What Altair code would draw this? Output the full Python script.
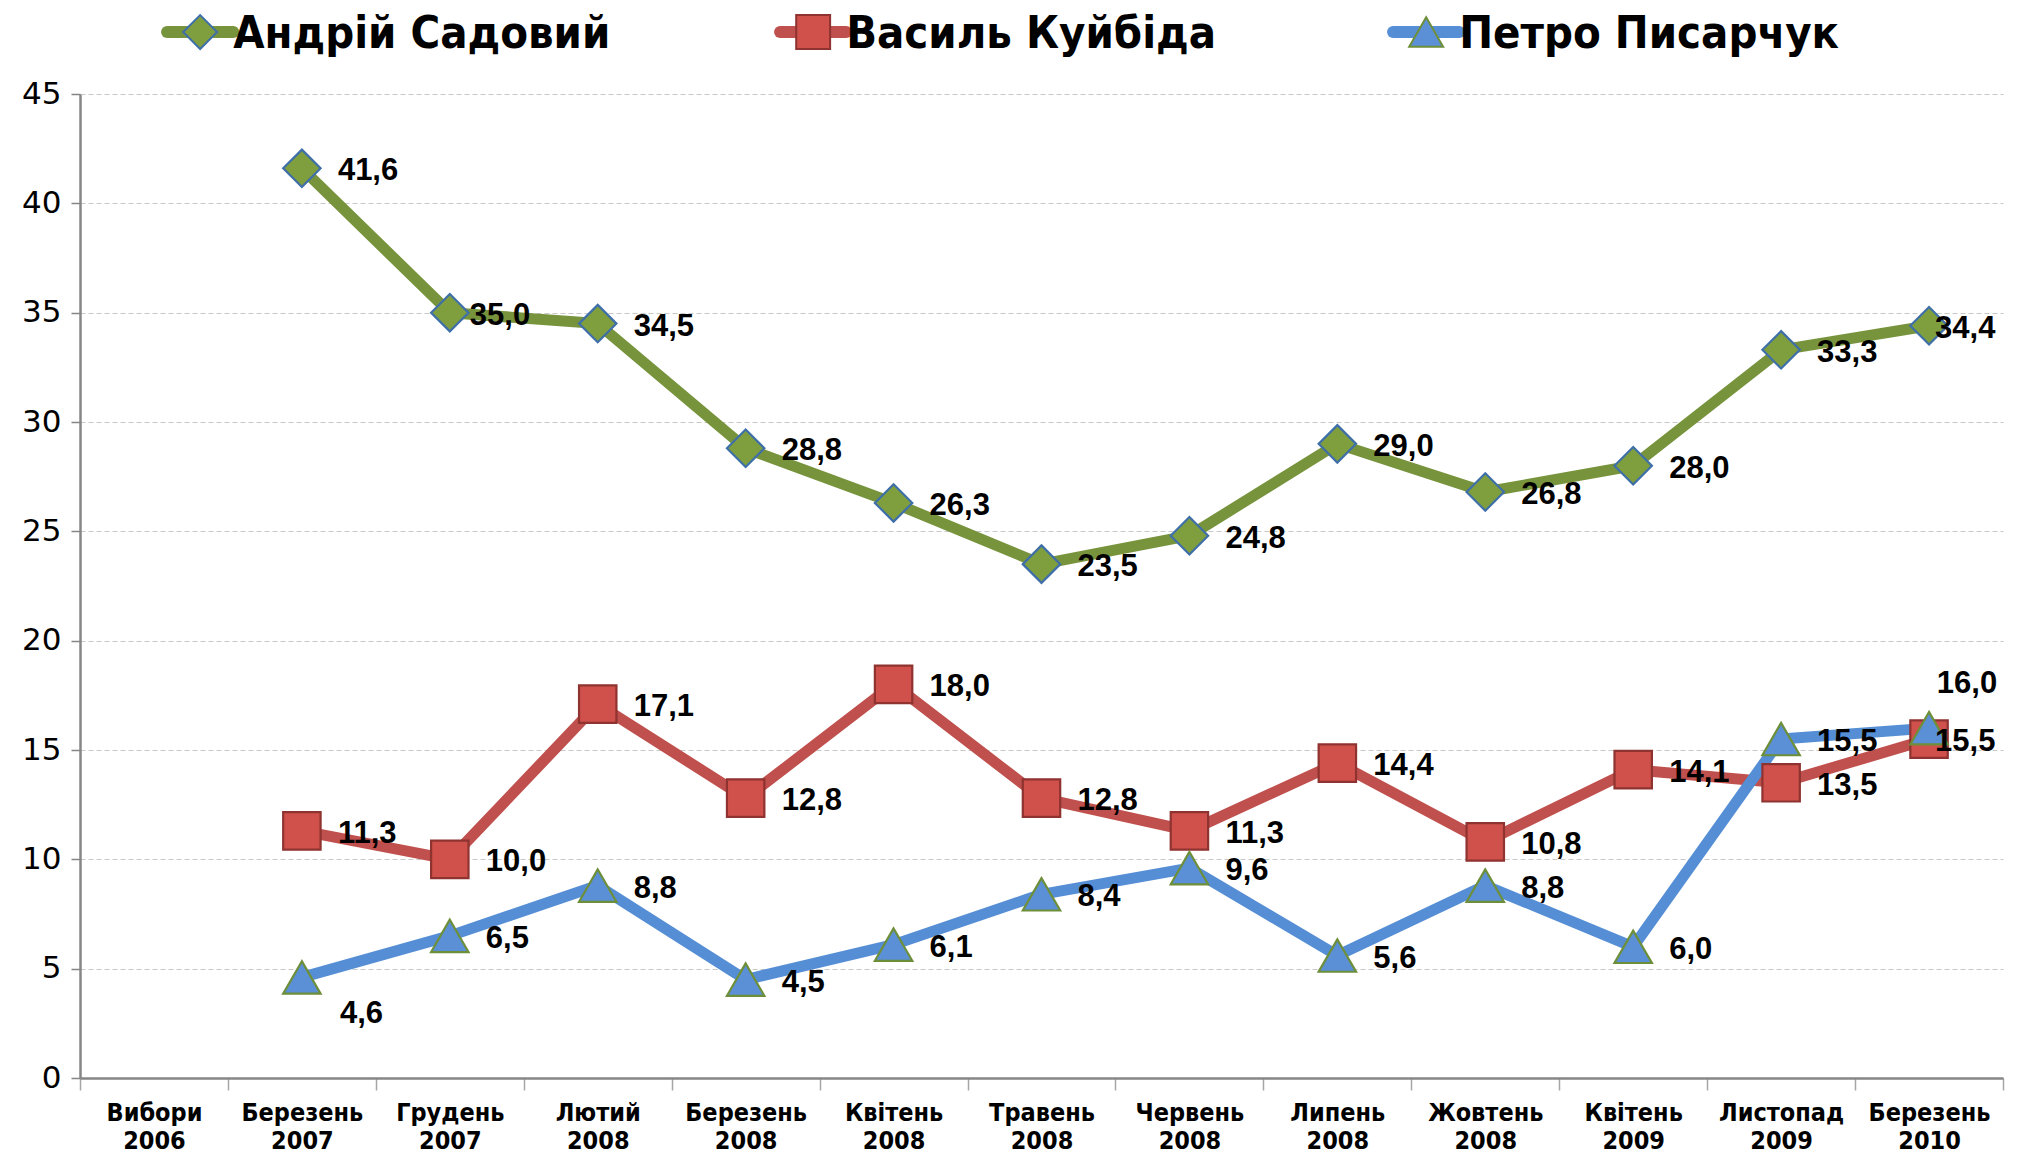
import altair as alt
import pandas as pd

categories = ["Вибори 2006", "Березень 2007", "Грудень 2007", "Лютий 2008",
              "Березень 2008", "Квітень 2008", "Травень 2008", "Червень 2008",
              "Липень 2008", "Жовтень 2008", "Квітень 2009", "Листопад 2009",
              "Березень 2010"]
series_names = ["Андрій Садовий", "Василь Куйбіда", "Петро Писарчук"]
sadovyi = [None, 41.6, 35.0, 34.5, 28.8, 26.3, 23.5, 24.8, 29.0, 26.8, 28.0, 33.3, 34.4]
kuybida = [None, 11.3, 10.0, 17.1, 12.8, 18.0, 12.8, 11.3, 14.4, 10.8, 14.1, 13.5, 15.5]
pysarchuk = [None, 4.6, 6.5, 8.8, 4.5, 6.1, 8.4, 9.6, 5.6, 8.8, 6.0, 15.5, 16.0]
y_ticks = [0, 5, 10, 15, 20, 25, 30, 35, 40, 45]

line_colors = ["#77933C", "#C0504D", "#558ED5"]
fill_colors = ["#7F9F3F", "#D0504C", "#5B8FD6"]
stroke_colors = ["#3F6FA8", "#8E3330", "#6E8F3A"]
shapes = ["diamond", "square", "triangle-up"]

rows = []
for si, (name, vals) in enumerate(zip(series_names, [sadovyi, kuybida, pysarchuk])):
    for c, v in zip(categories, vals):
        if v is not None:
            rows.append({"category": c, "series": name, "value": v, "sidx": si})
df = pd.DataFrame(rows)
legend_df = pd.DataFrame({"series": series_names, "sidx": list(range(len(series_names)))})

narrow = "Liberation Sans Narrow, Arial Narrow, DejaVu Sans Condensed, sans-serif"
W, H = 1923, 984

line_scale = alt.Scale(domain=series_names, range=line_colors)
fill_scale = alt.Scale(domain=series_names, range=fill_colors)
stroke_scale = alt.Scale(domain=series_names, range=stroke_colors)
shape_scale = alt.Scale(domain=series_names, range=shapes)

# ---------------- main plot ----------------
x_enc = alt.X("category:N", sort=categories,
              scale=alt.Scale(type="band", domain=categories, paddingInner=0, paddingOuter=0),
              axis=alt.Axis(title=None, labelExpr="split(datum.label, ' ')",
                            labelFont=narrow,
                            labelFontWeight="bold", labelFontSize=25, labelLineHeight=28,
                            labelColor="black", labelPadding=10, tickBand="extent",
                            tickSize=12, tickColor="#A6A6A6", tickWidth=1.5,
                            domainColor="#868686", domainWidth=2.5, grid=False,
                            labelAngle=0, labelBaseline="top"))
y_enc = alt.Y("value:Q", scale=alt.Scale(domain=[0, 45], nice=False, zero=True),
              axis=alt.Axis(title=None, values=y_ticks, labelFont="DejaVu Sans",
                            labelFontSize=31, labelColor="black", labelPadding=10,
                            tickSize=9, tickColor="#868686", tickWidth=1.5,
                            domainColor="#868686", domainWidth=2.5,
                            grid=True, gridColor="#C8C8C8", gridDash=[5, 3], gridWidth=1.2))

base = alt.Chart(df)

lines = base.mark_line(strokeWidth=11, strokeCap="round", strokeJoin="round").encode(
    x=x_enc, y=y_enc,
    color=alt.Color("series:N", scale=line_scale, legend=None),
    detail="series:N",
    order=alt.Order("sidx:Q"),
)

points = base.mark_point(filled=True, size=1400, strokeWidth=2.2, opacity=1).encode(
    x=x_enc, y=y_enc,
    fill=alt.Fill("series:N", scale=fill_scale, legend=None),
    stroke=alt.Stroke("series:N", scale=stroke_scale, legend=None),
    shape=alt.Shape("series:N", scale=shape_scale, legend=None),
    order=alt.Order("sidx:Q"),
)

specials = [
    ("Андрій Садовий", "Грудень 2007", 20, 3, "left"),
    ("Андрій Садовий", "Березень 2010", 6, 3, "left"),
    ("Василь Куйбіда", "Березень 2010", 6, 3, "left"),
    ("Петро Писарчук", "Березень 2007", 38, 37, "left"),
    ("Петро Писарчук", "Березень 2010", 38, -44, "center"),
]

label_base = base.transform_calculate(
    label="replace(format(datum.value, '.1f'), '.', ',')"
)
text_kw = dict(font="Liberation Sans, Arial, sans-serif", fontWeight="bold",
               fontSize=31, color="black", baseline="middle")

excl = " && ".join(
    f"!(datum.series == '{s}' && datum.category == '{c}')" for s, c, *_ in specials
)
texts = [label_base.transform_filter(excl).mark_text(align="left", dx=36, dy=3, **text_kw)
         .encode(x=x_enc, y=y_enc, text="label:N")]
for s, c, dx, dy, al in specials:
    texts.append(
        label_base.transform_filter(f"datum.series == '{s}' && datum.category == '{c}'")
        .mark_text(align=al, dx=dx, dy=dy, **text_kw)
        .encode(x=x_enc, y=y_enc, text="label:N")
    )

main = alt.layer(lines, points, *texts)

# ---------------- legend above the plot (line + marker + name) ----------------
leg_x_scale = alt.Scale(domain=[-0.196, 2.941], nice=False, zero=False)
leg_y = alt.Y("lane:Q", scale=alt.Scale(domain=[0, 1], nice=False, zero=False), axis=None)
leg_base = alt.Chart(legend_df).transform_calculate(lane="1.063")

leg_lines = leg_base.transform_calculate(
    a="datum.sidx - 0.054", b="datum.sidx + 0.054"
).transform_fold(["a", "b"], as_=["end", "pos"]).mark_line(
    strokeWidth=12, strokeCap="round").encode(
    x=alt.X("pos:Q", scale=leg_x_scale, axis=None),
    y=leg_y,
    color=alt.Color("series:N", scale=line_scale, legend=None),
    detail="series:N",
)
leg_points = leg_base.mark_point(filled=True, size=1150, strokeWidth=2, opacity=1).encode(
    x=alt.X("sidx:Q", scale=leg_x_scale, axis=None),
    y=leg_y,
    fill=alt.Fill("series:N", scale=fill_scale, legend=None),
    stroke=alt.Stroke("series:N", scale=stroke_scale, legend=None),
    shape=alt.Shape("series:N", scale=shape_scale, legend=None),
)
leg_text = leg_base.mark_text(align="left", baseline="middle", dx=33, dy=2,
                              font=narrow, fontWeight="bold", fontSize=45,
                              color="black").encode(
    x=alt.X("sidx:Q", scale=leg_x_scale, axis=None),
    y=leg_y,
    text="series:N",
)
legend_layer = alt.layer(leg_lines, leg_points, leg_text)

chart = alt.layer(main, legend_layer).resolve_scale(
    x="independent", y="independent"
).properties(
    width=W, height=H,
    autosize=alt.AutoSizeParams(type="none"),
    padding={"left": 72, "top": 86, "right": 9, "bottom": 82},
).configure_view(stroke=None)

chart.save("out.html", embed_options={"renderer": "svg", "actions": False})
